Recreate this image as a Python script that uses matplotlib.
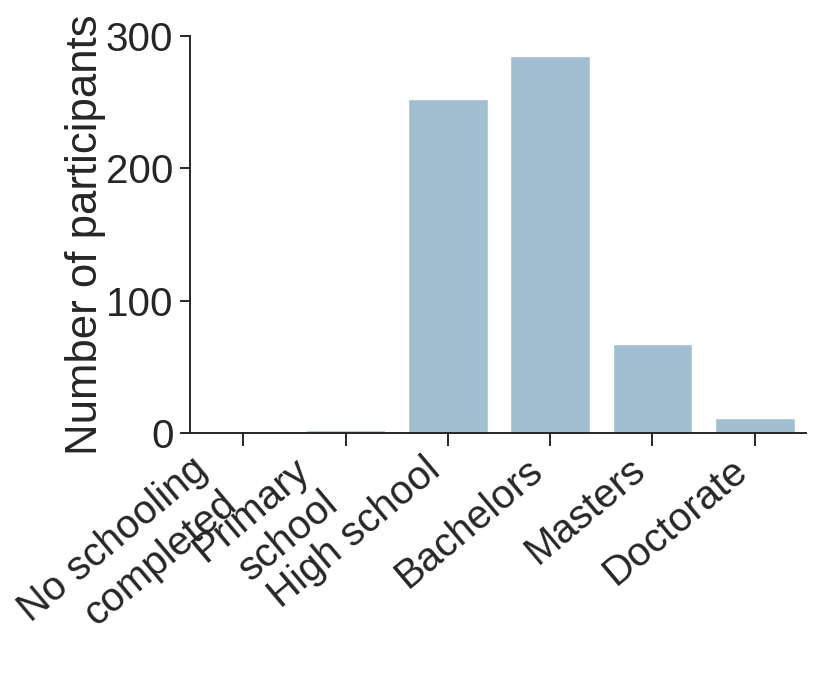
import matplotlib
matplotlib.use("Agg")
import matplotlib.pyplot as plt
import seaborn as sns

# education levels and counts
education = ["No schooling\ncompleted", "Primary\nschool", "High school",
             "Bachelors", "Masters", "Doctorate"]
counts = [0, 2, 252, 285, 67, 11]

sns.set_style("ticks")
plt.rcParams['font.family'] = ['Liberation Sans', 'DejaVu Sans']
plt.rcParams['text.color'] = '#262626'
plt.rcParams['axes.labelcolor'] = '#262626'
plt.rcParams['xtick.color'] = '#262626'
plt.rcParams['ytick.color'] = '#262626'

fig = plt.figure(figsize=(8.3, 6.76), dpi=100)
ax = fig.add_axes([0.229, 0.3595, 0.742, 0.5875])

ax.bar(range(len(counts)), counts, width=0.78, color='#a2bfd2')
ax.set_xlim(-0.52, 5.5)
ax.set_ylim(0, 300)
ax.set_yticks([0, 100, 200, 300])
ax.set_xticks(range(len(education)))
ax.set_xticklabels(education, rotation=40, ha='right', fontsize=29)
ax.tick_params(axis='y', labelsize=29, length=7, width=1.4, pad=5)
ax.tick_params(axis='x', length=9, width=1.4)
ax.set_ylabel("Number of participants", fontsize=31.5, labelpad=0)
for s in ['left', 'bottom']:
    ax.spines[s].set_linewidth(1.4)
    ax.spines[s].set_color('#262626')
sns.despine(ax=ax)

fig.savefig("out.png", dpi=100)
